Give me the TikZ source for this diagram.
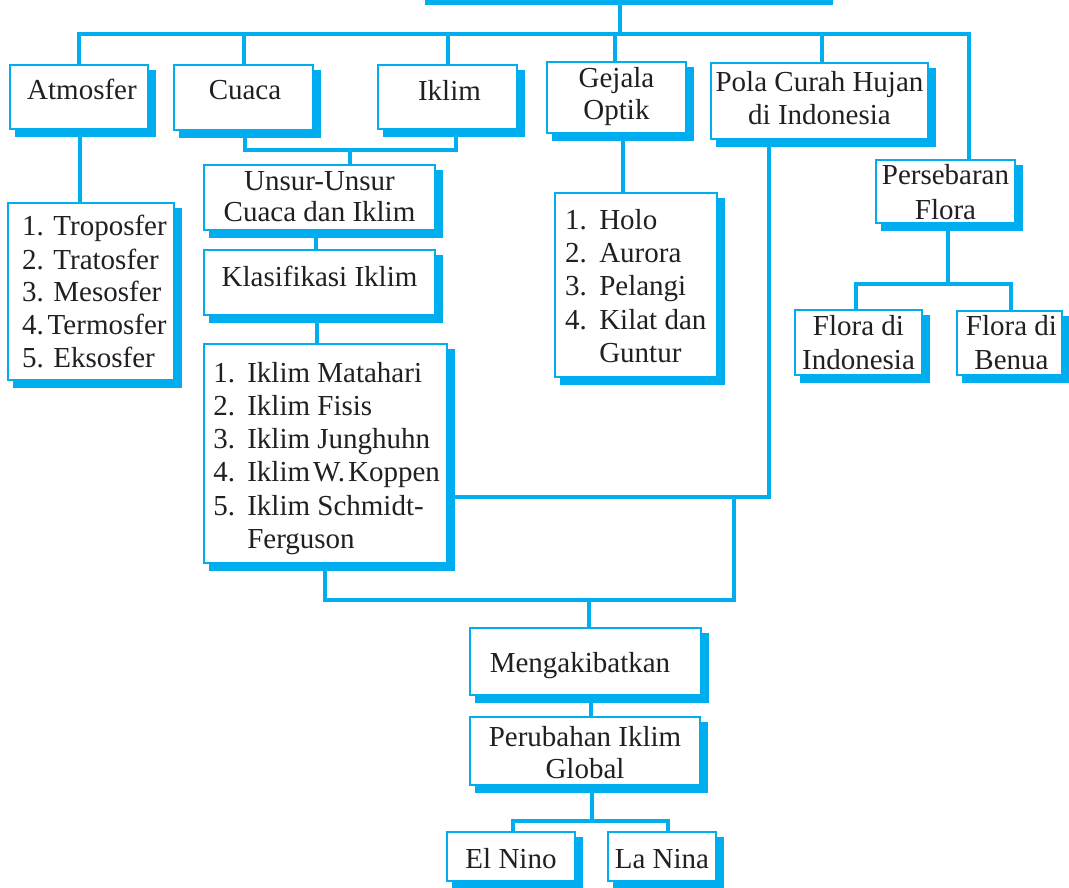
\documentclass[tikz,border=0pt]{standalone}
\usepackage{fontspec}
\setmainfont{Liberation Serif}
\usetikzlibrary{shadows}
\definecolor{cy}{HTML}{00AEEF}
\definecolor{ink}{HTML}{231F20}
\newcommand{\tb}[3]{\fontsize{29}{#1}\selectfont\begin{tabular}[t]{@{}#2@{}}#3\end{tabular}}
\tikzset{
  bx/.style={draw=cy, line width=2.5pt, fill=white, inner sep=0pt, text=ink,
    drop shadow={shadow xshift=6.5pt, shadow yshift=-6.5pt, fill=cy, draw=cy, line width=3pt, opacity=1}},
  conn/.style={draw=cy, line width=4pt},
  bup/.style={text height=0pt, text depth=#1},
  bdown/.style={text height=#1, text depth=0pt},
}
\begin{document}
\begin{tikzpicture}[x=1pt,y=-1pt]
\useasboundingbox (0,0) rectangle (1069,888);
\clip (0,0) rectangle (1069,888);
% boxes
\node[bx, minimum width=405pt, minimum height=66pt] (top) at (622.5,-36) {};
\node[bx, minimum width=138pt, minimum height=64pt, bdown=6pt] (atm) at (79,97) {\tb{33}{c}{\kern6pt Atmosfer}};
\node[bx, minimum width=139pt, minimum height=65pt, bdown=5pt] (cuaca) at (243.5,97.5) {\tb{33}{c}{\kern3pt Cuaca}};
\node[bx, minimum width=139pt, minimum height=64pt, bdown=8pt] (iklim) at (447.5,97) {\tb{33}{c}{\kern4pt Iklim}};
\node[bx, minimum width=139pt, minimum height=71pt, bup=19pt] (gejala) at (616.5,97.5) {\tb{32}{c}{Gejala\\Optik}};
\node[bx, minimum width=217pt, minimum height=76pt, bup=18pt] (pola) at (819.5,101) {\tb{33}{c}{Pola Curah Hujan\\di Indonesia}};
\node[bx, minimum width=166pt, minimum height=177pt, bup=111pt] (tropo) at (91,291.5)
  {\makebox[138pt][l]{\tb{33}{l}{1. Troposfer\\2. Tratosfer\\3. Mesosfer\\4.\kern4pt Termosfer\\5. Eksosfer}}};
\node[bx, minimum width=231pt, minimum height=65pt, bup=15pt] (unsur) at (319.5,197.5) {\tb{32}{c}{Unsur-Unsur\\Cuaca dan Iklim}};
\node[bx, minimum width=231pt, minimum height=65pt, bdown=8.4pt] (klas) at (319.5,282.5) {\tb{33}{c}{Klasifikasi Iklim}};
\node[bx, minimum width=243pt, minimum height=219pt, bup=143pt] (iklist) at (325.5,453.5)
  {\makebox[224.4pt][l]{\tb{33.3}{l}{\makebox[34pt][l]{1.}Iklim Matahari\\
   \makebox[34pt][l]{2.}Iklim Fisis\\
   \makebox[34pt][l]{3.}Iklim Junghuhn\\
   \makebox[34pt][l]{4.}Iklim\kern3pt W.\kern3pt Koppen\\
   \makebox[34pt][l]{5.}Iklim Schmidt-\\
   \hspace*{34pt}Ferguson}}};
\node[bx, minimum width=162pt, minimum height=184pt, bup=111.4pt] (holo) at (636,285)
  {\makebox[142pt][l]{\tb{33.35}{l}{\makebox[34.3pt][l]{1.}Holo\\
   \makebox[34.3pt][l]{2.}Aurora\\
   \makebox[34.3pt][l]{3.}Pelangi\\
   \makebox[34.3pt][l]{4.}Kilat dan\\
   \hspace*{34.3pt}Guntur}}};
\node[bx, minimum width=139pt, minimum height=63pt, bup=13pt] (perseb) at (945.5,191.5) {\tb{35}{c}{Persebaran\\Flora}};
\node[bx, minimum width=127pt, minimum height=65pt, bup=15pt] (floraI) at (858.5,342.5) {\tb{34.3}{c}{Flora di\\Indonesia}};
\node[bx, minimum width=105pt, minimum height=64pt, bup=16pt] (floraB) at (1009.5,343) {\kern4pt\tb{34.3}{c}{Flora di\\Benua}};
\node[bx, minimum width=231pt, minimum height=67pt, bdown=22.4pt] (meng) at (585.5,661.5) {\tb{33}{c}{Mengakibatkan}\kern11pt};
\node[bx, minimum width=230pt, minimum height=68pt, bup=8.6pt] (perub) at (585,751) {\tb{31.7}{c}{Perubahan Iklim\\Global}};
\node[bx, minimum width=128pt, minimum height=49pt, bdown=23.6pt] (elnino) at (511,856.5) {\tb{33}{c}{El Nino}};
\node[bx, minimum width=108pt, minimum height=49pt, bdown=23.6pt] (lanina) at (662,856.5) {\tb{33}{c}{La Nina}};
% connectors
\coordinate (busL) at (79,34.5);
\coordinate (busR) at (969,34.5);
\draw[conn] (atm.north) -- (busL) -- (busR) -- (busR |- perseb.north);
\draw[conn] ([xshift=-2.5pt]top.south) -- ([xshift=-2.5pt]top.south |- busL);
\draw[conn] (cuaca.north) -- (cuaca.north |- busL);
\draw[conn] (iklim.north) -- (iklim.north |- busL);
\draw[conn] ([xshift=-1.5pt]gejala.north) -- ([xshift=-1.5pt]gejala.north |- busL);
\draw[conn] ([xshift=2.5pt]pola.north) -- ([xshift=2.5pt]pola.north |- busL);
\coordinate (ci) at (350,150);
\draw[conn] ([xshift=1.5pt]cuaca.south) |- (ci) -| ([xshift=8.5pt]iklim.south);
\draw[conn] (ci) -- (ci |- unsur.north);
\draw[conn] ([xshift=1pt]atm.south) -- ([xshift=1pt]atm.south |- tropo.north);
\draw[conn] ([xshift=-3.5pt]unsur.south) -- ([xshift=-3.5pt]unsur.south |- klas.north);
\draw[conn] ([xshift=-3pt]klas.south) -- ([xshift=-3pt]klas.south |- iklist.north);
\draw[conn] ([xshift=6.5pt]gejala.south) -- ([xshift=6.5pt]gejala.south |- holo.north);
\coordinate (pf) at (948,283.5);
\draw[conn] (pf |- perseb.south) -- (pf);
\draw[conn] ([xshift=-2.5pt]floraI.north) |- (pf) -| ([xshift=1.5pt]floraB.north);
\coordinate (pk) at (769,496.5);
\draw[conn] (pk |- pola.south) -- (pk) -- (pk -| iklist.east);
\coordinate (bl) at (325,599.5);
\coordinate (br) at (734,599.5);
\coordinate (bm) at (589,599.5);
\draw[conn] (bl |- iklist.south) -- (bl) -- (br) -- (br |- pk);
\draw[conn] (bm) -- (bm |- meng.north);
\draw[conn] ([xshift=5.5pt]meng.south) -- ([xshift=5.5pt]meng.south |- perub.north);
\coordinate (pe) at (592,820.5);
\draw[conn] (pe |- perub.south) -- (pe);
\draw[conn] ([xshift=2pt]elnino.north) |- (pe) -| ([xshift=6pt]lanina.north);
\end{tikzpicture}
\end{document}
